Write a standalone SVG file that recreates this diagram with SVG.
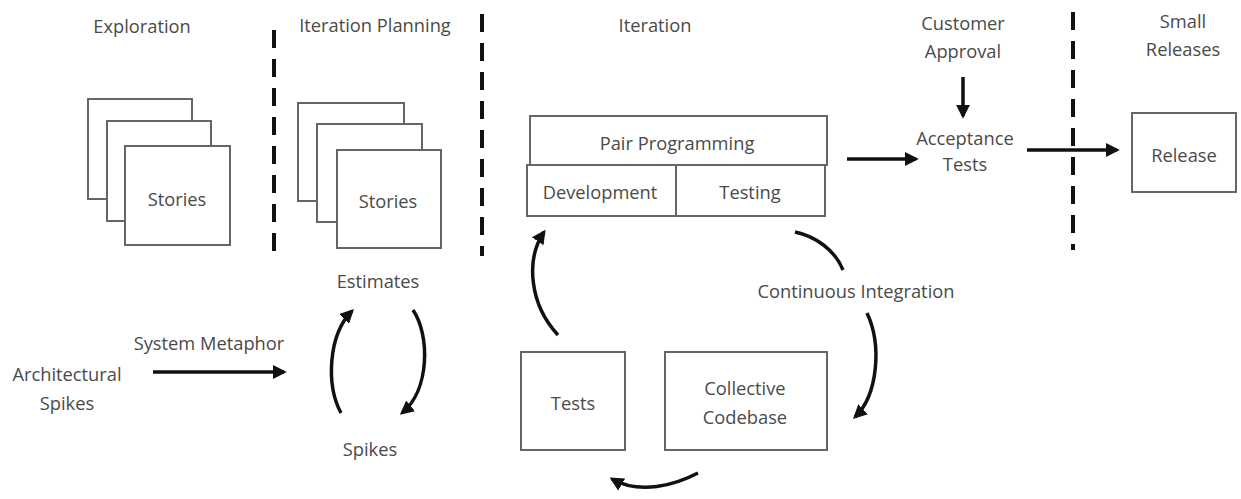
<svg xmlns="http://www.w3.org/2000/svg" width="1241" height="499" viewBox="0 0 1241 499">
<defs>
<marker id="ah" viewBox="0 0 10 10" refX="8" refY="5" markerWidth="4" markerHeight="4" orient="auto" markerUnits="strokeWidth">
<path d="M0,0 L10,5 L0,10 z" fill="#111"/>
</marker>
</defs>
<style>
.t{font-family:"Open Sans","Noto Sans",sans-serif;font-size:18.3px;fill:#4a4a4a;text-anchor:middle;dominant-baseline:central}
.box{fill:#fff;stroke:#666;stroke-width:2}
.dash{stroke:#111;stroke-width:4;stroke-dasharray:18 11;fill:none}
.ar{stroke:#111;stroke-width:3.5;fill:none;marker-end:url(#ah)}
.cv{stroke:#111;stroke-width:3.5;fill:none}
</style>
<rect width="1241" height="499" fill="#fff"/>
<g id="phases">
<text class="t" x="142" y="25">Exploration</text>
<text class="t" x="375" y="24">Iteration Planning</text>
<text class="t" x="655" y="24">Iteration</text>
<text class="t" x="963" y="22">Customer</text>
<text class="t" x="963" y="50">Approval</text>
<text class="t" x="1183" y="20">Small</text>
<text class="t" x="1183" y="48">Releases</text>
</g>
<g id="dividers">
<line class="dash" x1="274" y1="30" x2="274" y2="256"/>
<line class="dash" x1="482" y1="14" x2="482" y2="256" stroke-dasharray="3 14 18 11 18 11 18 11 18 11 18 11 18 11 18 11 18 11 18 11"/>
<line class="dash" x1="1073" y1="12" x2="1073" y2="250" stroke-dasharray="3 14 18 11 18 11 18 11 18 11 18 11 18 11 18 11 18 11 18 11"/>
</g>
<g id="exploration-stories">
<rect class="box" x="88" y="99" width="104" height="100"/>
<rect class="box" x="107" y="121" width="104" height="100"/>
<rect class="box" x="125" y="146" width="105" height="99"/>
<text class="t" x="177" y="198">Stories</text>
</g>
<g id="planning-stories">
<rect class="box" x="298" y="103" width="106" height="98"/>
<rect class="box" x="317" y="124" width="105" height="98"/>
<rect class="box" x="337" y="150" width="104" height="98"/>
<text class="t" x="388" y="200">Stories</text>
</g>
<g id="pair-programming">
<rect class="box" x="530" y="116" width="297" height="49"/>
<text class="t" x="677" y="142">Pair Programming</text>
</g>
<g id="development">
<rect class="box" x="527" y="165" width="149" height="51"/>
<text class="t" x="600" y="191">Development</text>
</g>
<g id="testing">
<rect class="box" x="676" y="165" width="149" height="51"/>
<text class="t" x="750" y="191">Testing</text>
</g>
<g id="acceptance-tests">
<text class="t" x="965" y="137">Acceptance</text>
<text class="t" x="965" y="163">Tests</text>
</g>
<g id="release">
<rect class="box" x="1132" y="113" width="104" height="79"/>
<text class="t" x="1184" y="154">Release</text>
</g>
<g id="estimates"><text class="t" x="378" y="280">Estimates</text></g>
<g id="spikes"><text class="t" x="370" y="448">Spikes</text></g>
<g id="architectural-spikes">
<text class="t" x="67" y="373">Architectural</text>
<text class="t" x="67" y="402">Spikes</text>
</g>
<g id="tests">
<rect class="box" x="521" y="352" width="104" height="98"/>
<text class="t" x="573" y="402">Tests</text>
</g>
<g id="collective-codebase">
<rect class="box" x="665" y="352" width="162" height="98"/>
<text class="t" x="745" y="387">Collective</text>
<text class="t" x="745" y="416">Codebase</text>
</g>
<g id="connectors">
<text class="t" x="209" y="342">System Metaphor</text>
<text class="t" x="856" y="290">Continuous Integration</text>
<line class="ar" x1="153" y1="372" x2="284" y2="372"/>
<line class="ar" x1="963" y1="77" x2="963" y2="116"/>
<line class="ar" x1="847" y1="159" x2="916" y2="159"/>
<line class="ar" x1="1027" y1="150" x2="1117" y2="150"/>
<path class="ar" d="M341,413 C326,385 328,335 352,311"/>
<path class="ar" d="M413,310 C430,335 430,390 402,413"/>
<path class="cv" d="M795,232 C815,236 835,250 843,270"/>
<path class="ar" d="M867,313 C882,345 878,395 855,417"/>
<path class="ar" d="M698,473 C675,485 640,495 612,479"/>
<path class="ar" d="M558,335 C530,305 525,260 544,232"/>
</g>
</svg>
